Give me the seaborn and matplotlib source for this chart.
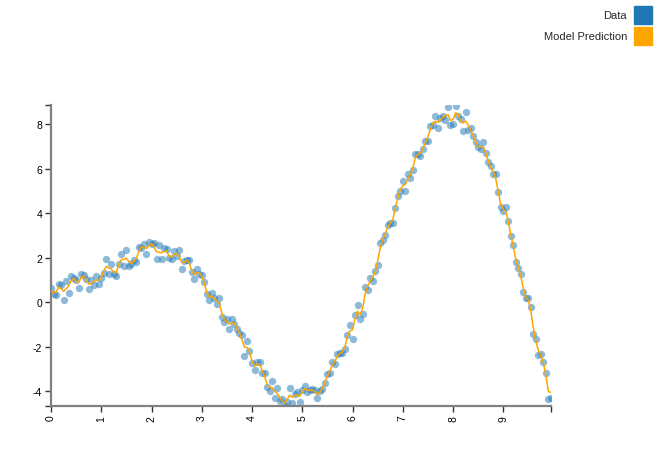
import numpy as np
import pandas as pd
import matplotlib
matplotlib.use("Agg")
import matplotlib.pyplot as plt
import seaborn as sns
from matplotlib.patches import Rectangle

# sample grid: 200 points, step 0.05
x_vals = np.round(np.arange(200) * 0.05, 2)

data_y = [
    0.66, 0.36, 0.31, 0.81, 0.77, 0.09, 0.96, 0.40, 1.16, 1.07,
    0.98, 0.66, 1.26, 1.22, 1.05, 0.59, 1.00, 0.78, 1.16, 0.84,
    1.11, 1.30, 1.94, 1.26, 1.71, 1.26, 1.18, 1.74, 2.16, 1.61,
    2.34, 1.64, 1.71, 1.89, 1.80, 2.46, 2.45, 2.63, 2.16, 2.69,
    2.61, 2.66, 1.94, 2.55, 1.94, 2.43, 2.39, 1.98, 1.94, 2.28,
    2.09, 2.34, 1.49, 1.86, 1.89, 1.91, 1.36, 1.04, 1.49, 1.29,
    1.23, 0.92, 0.36, 0.10, 0.41, 0.17, -0.06, 0.21, -0.65, -0.87,
    -0.74, -1.22, -0.74, -0.96, -1.19, -1.40, -1.49, -2.42, -1.76, -2.19,
    -2.72, -3.05, -2.69, -2.69, -3.17, -3.17, -3.80, -3.99, -3.55, -4.29,
    -3.84, -4.44, -4.34, -4.67, -4.49, -3.84, -4.55, -4.14, -4.02, -4.49,
    -3.95, -3.77, -4.05, -3.95, -3.92, -3.95, -4.32, -3.99, -3.92, -3.65,
    -3.24, -3.20, -2.67, -2.79, -2.34, -2.30, -2.27, -2.12, -1.49, -1.02,
    -1.67, -0.59, -0.14, -0.77, -0.54, 0.69, 0.54, 1.11, 0.96, 1.41,
    1.66, 2.64, 2.79, 3.02, 3.48, 3.54, 3.54, 4.23, 4.79, 4.98,
    5.47, 5.00, 5.77, 5.57, 5.95, 6.67, 6.67, 6.59, 6.89, 7.27,
    7.27, 7.94, 7.97, 8.39, 7.82, 8.30, 8.39, 8.20, 8.77, 7.97,
    8.01, 8.84, 8.39, 8.24, 7.72, 8.57, 7.75, 7.84, 7.49, 7.19,
    6.97, 6.89, 7.19, 6.70, 6.29, 6.14, 5.77, 5.77, 4.94, 4.26,
    4.11, 4.29, 3.63, 2.99, 2.58, 1.79, 1.53, 1.29, 0.48, 0.17,
    0.17, -0.20, -1.44, -1.64, -2.37, -2.32, -2.69, -3.20, -4.34, -4.29,
]

# model prediction line
pred_y = [
    0.50, 0.42, 0.45, 0.68, 0.61, 0.48, 0.60, 0.73, 0.95, 1.07,
    0.92, 0.89, 1.10, 1.19, 0.98, 0.81, 0.84, 0.93, 0.99, 0.99,
    1.09, 1.41, 1.61, 1.54, 1.49, 1.35, 1.34, 1.71, 1.92, 1.93,
    1.98, 1.83, 1.74, 1.82, 1.99, 2.29, 2.50, 2.47, 2.41, 2.54,
    2.64, 2.47, 2.27, 2.25, 2.22, 2.30, 2.30, 2.07, 2.04, 2.15,
    2.20, 2.07, 1.80, 1.78, 1.89, 1.77, 1.42, 1.23, 1.33, 1.33,
    1.17, 0.86, 0.44, 0.24, 0.27, 0.17, 0.07, -0.07, -0.49, -0.78,
    -0.89, -0.98, -0.92, -0.96, -1.19, -1.37, -1.70, -2.02, -2.03, -2.22,
    -2.67, -2.88, -2.78, -2.81, -3.05, -3.33, -3.69, -3.83, -3.85, -3.99,
    -4.10, -4.27, -4.45, -4.54, -4.37, -4.18, -4.27, -4.21, -4.17, -4.24,
    -4.04, -3.89, -3.96, -3.97, -3.94, -4.04, -4.15, -4.06, -3.87, -3.62,
    -3.33, -3.08, -2.83, -2.65, -2.44, -2.30, -2.24, -2.00, -1.53, -1.30,
    -1.24, -0.75, -0.41, -0.56, -0.29, 0.35, 0.72, 0.93, 1.11, 1.36,
    1.84, 2.43, 2.81, 3.08, 3.38, 3.53, 3.71, 4.20, 4.70, 5.06,
    5.23, 5.31, 5.53, 5.72, 6.04, 6.49, 6.65, 6.69, 6.91, 7.18,
    7.44, 7.78, 8.07, 8.14, 8.08, 8.20, 8.32, 8.39, 8.43, 8.18,
    8.21, 8.52, 8.47, 8.15, 8.06, 8.15, 7.98, 7.73, 7.50, 7.21,
    7.00, 6.99, 6.99, 6.72, 6.36, 6.09, 5.86, 5.56, 4.98, 4.39,
    4.19, 4.08, 3.64, 3.05, 2.49, 1.92, 1.54, 1.15, 0.61, 0.25,
    0.08, -0.42, -1.18, -1.77, -2.18, -2.43, -2.73, -3.36, -4.03, -4.05,
]

df = pd.DataFrame({"x": x_vals, "y": data_y, "pred": pred_y})

sns.set_style("white")
plt.rcParams['font.family'] = ['Liberation Sans', 'DejaVu Sans']
plt.rcParams['axes.unicode_minus'] = False

fig = plt.figure(figsize=(6.72, 4.56), dpi=100)
ax = fig.add_axes([51 / 672, 49 / 456, 500 / 672, 301 / 456])

sns.scatterplot(data=df, x="x", y="y", ax=ax, color="#1f77b4", alpha=0.5,
                s=28, linewidth=0, zorder=2)
sns.lineplot(data=df, x="x", y="pred", ax=ax, color="#FFA500", linewidth=1.1,
             estimator=None, sort=False, zorder=3)

xmin, xmax = 0, 9.95
ymin, ymax = -4.67, 8.87
ax.set_xlim(xmin, xmax)
ax.set_ylim(ymin, ymax)
ax.set_xticks(range(0, 10))
ax.set_yticks([-4, -2, 0, 2, 4, 6, 8])
# outer ticks at the ends of the domain (d3 style)
ax.set_xticks([xmin, xmax], minor=True)
ax.set_yticks([ymin, ymax], minor=True)
ax.set_xlabel("")
ax.set_ylabel("")

for s in ["top", "right"]:
    ax.spines[s].set_visible(False)
for s in ["left", "bottom"]:
    ax.spines[s].set_color("#808080")
    ax.spines[s].set_linewidth(1.6)

ax.tick_params(axis="both", which="both", direction="out", length=4.3,
               width=1.0, color="#333333", labelsize=7.5, labelcolor="black",
               pad=2, bottom=True, left=True)
ax.tick_params(axis="x", which="major", labelrotation=90)

# legend in the top right corner
fig.add_artist(Rectangle((634 / 672, 1 - 25 / 456), 18 / 672, 18 / 456,
                         transform=fig.transFigure, color="#1f77b4"))
fig.add_artist(Rectangle((634 / 672, 1 - 46 / 456), 18 / 672, 18 / 456,
                         transform=fig.transFigure, color="#FFA500"))
fig.text(627 / 672, 1 - 16 / 456, "Data", ha="right", va="center", fontsize=8)
fig.text(627 / 672, 1 - 37 / 456, "Model Prediction", ha="right", va="center", fontsize=8)

fig.savefig("out.png", dpi=100)
